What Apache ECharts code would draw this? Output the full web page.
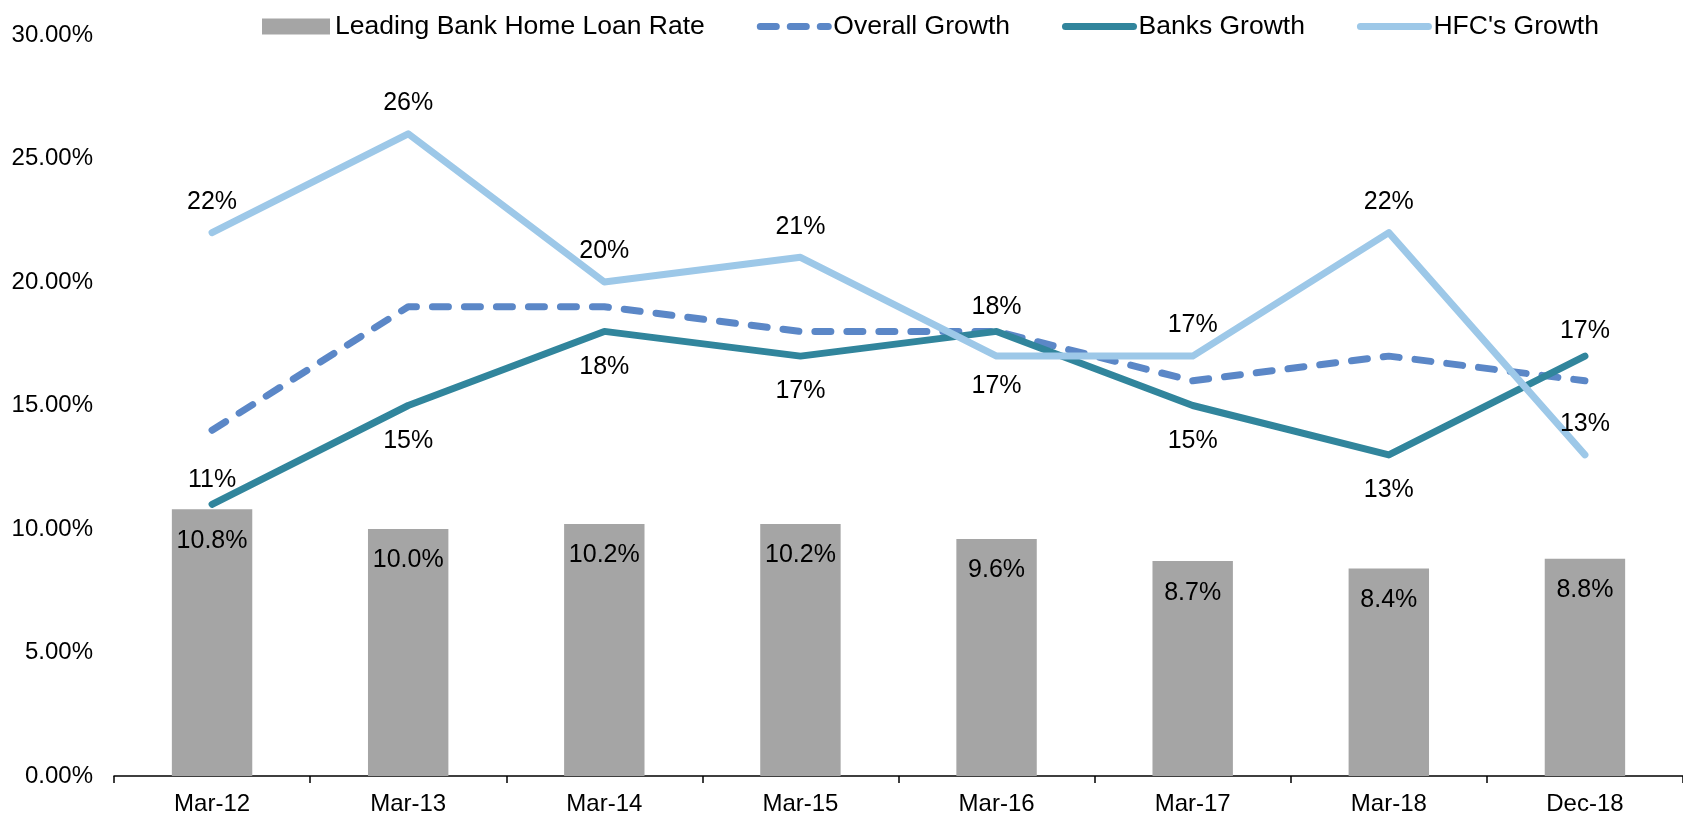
<!DOCTYPE html>
<html>
<head>
<meta charset="utf-8">
<script src="https://cdn.jsdelivr.net/npm/echarts@6/dist/echarts.min.js"></script>
<style>
  html, body { margin: 0; padding: 0; background: #fff; }
  #chart { width: 1683px; height: 816px; }
</style>
</head>
<body>
<div id="chart"></div>
<script>
// Periods on the x axis
const categories = ['Mar-12', 'Mar-13', 'Mar-14', 'Mar-15', 'Mar-16', 'Mar-17', 'Mar-18', 'Dec-18'];

// Leading bank home loan rate (%)
const loanRate = [10.8, 10.0, 10.2, 10.2, 9.6, 8.7, 8.4, 8.8];

// Growth rates (%)
const overallGrowth = [14, 19, 19, 18, 18, 16, 17, 16];
const banksGrowth = [11, 15, 18, 17, 18, 15, 13, 17];
const hfcGrowth = [22, 26, 20, 21, 17, 17, 22, 13];

// Value-axis ticks (%)
const yTicks = [0, 5, 10, 15, 20, 25, 30];

// Where each growth label sits relative to its point
const banksLabelPos = ['top', 'bottom', 'bottom', 'bottom', 'top', 'bottom', 'bottom', 'top'];
const hfcLabelPos = ['top', 'top', 'top', 'top', 'bottom', 'top', 'top', 'top'];

const FONT = '"Liberation Sans", Arial, sans-serif';
const COLORS = { bar: '#A5A5A5', overall: '#5B87C7', banks: '#31859C', hfc: '#9DC8E8' };

// Data items carrying their own label placement; gap depends on side
function withLabels(values, positions, gapTop, gapBottom) {
  return values.map((v, i) => ({
    value: v,
    label: { position: positions[i], distance: positions[i] === 'top' ? gapTop : gapBottom }
  }));
}

// Legend entry for a line series: thick line, no marker
function lineLegend(name, color, type) {
  return {
    name: name,
    itemStyle: { opacity: 0 },
    lineStyle: { color: color, width: 7, type: type || 'solid', cap: 'round' }
  };
}

const chart = echarts.init(document.getElementById('chart'), null, { renderer: 'canvas' });

chart.setOption({
  animation: false,
  backgroundColor: '#ffffff',
  textStyle: { fontFamily: FONT, color: '#000' },
  legend: {
    left: 257,
    top: 8,
    itemWidth: 68,
    itemHeight: 16,
    itemGap: 52,
    textStyle: { fontFamily: FONT, fontSize: 26.5, color: '#000' },
    data: [
      { name: 'Leading Bank Home Loan Rate', icon: 'rect' },
      lineLegend('Overall Growth', COLORS.overall, [16, 14]),
      lineLegend('Banks Growth', COLORS.banks),
      lineLegend("HFC's Growth", COLORS.hfc)
    ]
  },
  grid: { left: 114, right: -15, top: 35, bottom: 40, containLabel: false },
  xAxis: {
    type: 'category',
    data: categories,
    boundaryGap: true,
    axisLine: { lineStyle: { color: '#000', width: 1.5 } },
    axisTick: { show: true, length: 7, lineStyle: { color: '#000', width: 1.5 } },
    axisLabel: { fontFamily: FONT, fontSize: 24, color: '#000', margin: 16 }
  },
  yAxis: {
    type: 'value',
    min: yTicks[0],
    max: yTicks[yTicks.length - 1],
    interval: yTicks[1] - yTicks[0],
    axisLine: { show: false },
    axisTick: { show: false },
    splitLine: { show: false },
    axisLabel: {
      fontFamily: FONT, fontSize: 24, color: '#000', margin: 21,
      formatter: v => v.toFixed(2) + '%'
    }
  },
  series: [
    {
      name: 'Leading Bank Home Loan Rate',
      type: 'bar',
      data: loanRate,
      barWidth: '41%',
      itemStyle: { color: COLORS.bar },
      label: {
        show: true, position: 'insideTop', distance: 19,
        fontFamily: FONT, fontSize: 25, color: '#000',
        formatter: p => p.value.toFixed(1) + '%'
      },
      z: 1
    },
    {
      name: 'Overall Growth',
      type: 'line',
      data: overallGrowth,
      symbol: 'none',
      lineStyle: { color: COLORS.overall, width: 7, type: [16, 16], cap: 'round' },
      itemStyle: { color: COLORS.overall },
      z: 2
    },
    {
      name: 'Banks Growth',
      type: 'line',
      data: withLabels(banksGrowth, banksLabelPos, 12, 23),
      symbol: 'circle',
      symbolSize: 0,
      showSymbol: true,
      lineStyle: { color: COLORS.banks, width: 7, cap: 'round', join: 'round' },
      itemStyle: { color: COLORS.banks },
      label: {
        show: true,
        fontFamily: FONT, fontSize: 25, color: '#000',
        formatter: p => p.value + '%'
      },
      z: 3
    },
    {
      name: "HFC's Growth",
      type: 'line',
      data: withLabels(hfcGrowth, hfcLabelPos, 18, 18),
      symbol: 'circle',
      symbolSize: 0,
      showSymbol: true,
      lineStyle: { color: COLORS.hfc, width: 7, cap: 'round', join: 'round' },
      itemStyle: { color: COLORS.hfc },
      label: {
        show: true,
        fontFamily: FONT, fontSize: 25, color: '#000',
        formatter: p => p.value + '%'
      },
      z: 4
    }
  ]
});
</script>
</body>
</html>
